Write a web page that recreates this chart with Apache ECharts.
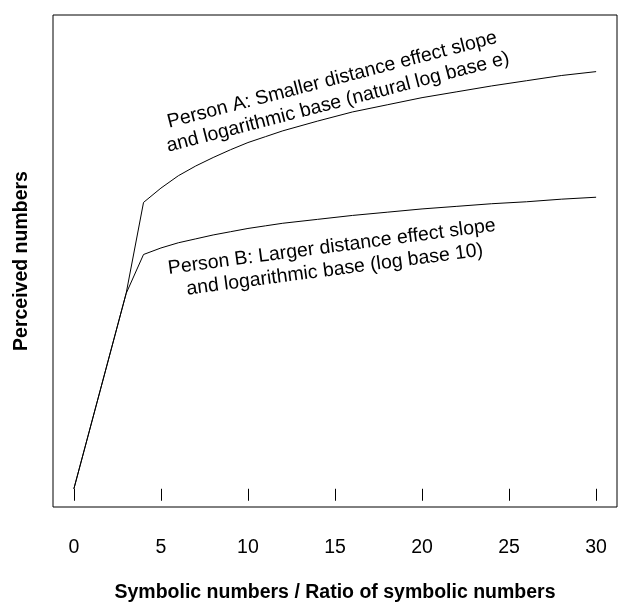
<!DOCTYPE html>
<html>
<head>
<meta charset="utf-8">
<script src="https://cdn.jsdelivr.net/npm/echarts@6/dist/echarts.min.js"></script>
<style>
html,body{margin:0;padding:0;background:#fff;}
#c{width:618px;height:604px;}
</style>
</head>
<body>
<div id="c"></div>
<script>
// Data
var xValues = [0, 3, 4, 5, 6, 7, 8, 9, 10, 11, 12, 14, 16, 18, 20, 22, 24, 26, 28, 30];
var personA = [0, 3.00, 4.40, 4.62, 4.81, 4.96, 5.09, 5.21, 5.32, 5.41, 5.50, 5.65, 5.79, 5.90, 6.01, 6.10, 6.19, 6.27, 6.35, 6.41];
var personB = [0, 3.00, 3.60, 3.70, 3.78, 3.84, 3.90, 3.95, 4.00, 4.04, 4.08, 4.14, 4.20, 4.25, 4.30, 4.34, 4.38, 4.41, 4.45, 4.48];
var xTicks = [0, 5, 10, 15, 20, 25, 30];
var labelA = "Person A: Smaller distance effect slope\nand logarithmic base (natural log base e)";
var labelB = "Person B: Larger distance effect slope\nand logarithmic base (log base 10)";
var anchorA = [15.0, 6.11];
var anchorB = [14.9, 3.54];

var FONT = "'Liberation Sans', Arial, Helvetica, sans-serif";
function pairs(xs, ys) { return xs.map(function (x, i) { return [x, ys[i]]; }); }

var chart = echarts.init(document.getElementById('c'), null, {renderer: 'canvas'});
var option = {
  animation: false,
  backgroundColor: '#fff',
  grid: {left: 53, right: 1, top: 15, bottom: 97, containLabel: false, outerBoundsMode: 'none',
         show: true, borderColor: '#000', borderWidth: 1, backgroundColor: 'transparent'},
  xAxis: {
    type: 'value', min: -1.2, max: 31.2,
    axisLine: {show: false},
    splitLine: {show: false},
    axisTick: {show: true, customValues: xTicks, length: 12, lineStyle: {color: '#000', width: 1}},
    axisLabel: {customValues: xTicks, margin: 31, color: '#000', fontSize: 19.5, fontFamily: FONT},
    name: 'Symbolic numbers / Ratio of symbolic numbers',
    nameLocation: 'middle', nameGap: 76,
    nameTextStyle: {color: '#000', fontSize: 19.5, fontWeight: 'bold', fontFamily: FONT}
  },
  yAxis: {
    type: 'value', min: -0.28, max: 7.28,
    axisLine: {show: false}, axisTick: {show: false}, axisLabel: {show: false}, splitLine: {show: false},
    name: 'Perceived numbers', nameLocation: 'middle', nameGap: 21,
    nameTextStyle: {color: '#000', fontSize: 19.5, fontWeight: 'bold', fontFamily: FONT}
  },
  series: [
    {type: 'line', name: 'Person A', data: pairs(xValues, personA), showSymbol: false, symbol: 'none',
     lineStyle: {color: '#000', width: 1}},
    {type: 'line', name: 'Person B', data: pairs(xValues, personB), showSymbol: false, symbol: 'none',
     lineStyle: {color: '#000', width: 1}}
  ]
};
chart.setOption(option);

var pA = chart.convertToPixel({gridIndex: 0}, anchorA);
var pB = chart.convertToPixel({gridIndex: 0}, anchorB);
function annot(p, text, deg) {
  return {
    type: 'text', x: p[0], y: p[1], rotation: deg * Math.PI / 180,
    style: {text: text, fill: '#000', fontSize: 19.5, fontFamily: FONT, align: 'center', verticalAlign: 'middle', lineHeight: 23}
  };
}
chart.setOption({graphic: [annot(pA, labelA, 14.5), annot(pB, labelB, 7.5)]});
</script>
</body>
</html>
